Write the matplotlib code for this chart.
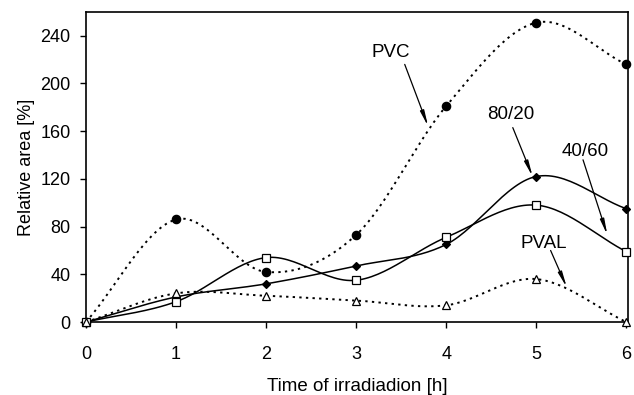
import numpy as np
import matplotlib
matplotlib.use("Agg")
import matplotlib.pyplot as plt

plt.rcParams['font.family'] = ['Liberation Sans', 'DejaVu Sans']

hours = [0, 1, 2, 3, 4, 5, 6]
pvc = [0, 86, 42, 73, 181, 251, 216]
r80_20 = [0, 21, 32, 47, 65, 122, 95]
r40_60 = [0, 17, 54, 35, 71, 98, 59]
pval = [0, 24, 22, 18, 14, 36, 0]


def smooth(x, y, n=30):
    # Catmull-Rom style smoothing, like the spreadsheet "smoothed line"
    x = np.asarray(x, float)
    y = np.asarray(y, float)
    px = np.concatenate([[2 * x[0] - x[1]], x, [2 * x[-1] - x[-2]]])
    py = np.concatenate([[2 * y[0] - y[1]], y, [2 * y[-1] - y[-2]]])
    xs, ys = [], []
    t = np.linspace(0, 1, n)
    for i in range(1, len(px) - 2):
        for p, out in ((px, xs), (py, ys)):
            p0, p1, p2, p3 = p[i - 1], p[i], p[i + 1], p[i + 2]
            out.extend(0.5 * (2 * p1 + (-p0 + p2) * t
                              + (2 * p0 - 5 * p1 + 4 * p2 - p3) * t ** 2
                              + (-p0 + 3 * p1 - 3 * p2 + p3) * t ** 3))
    return np.array(xs), np.array(ys)


fig = plt.figure(figsize=(6.34, 3.95), dpi=100)
ax = fig.add_axes([0.1356, 0.1848, 0.855, 0.785])

dots = (0, (1.2, 2.2))
series = [
    (pvc, dots, 'o', 'black', 6),
    (r80_20, '-', 'D', 'black', 4),
    (r40_60, '-', 's', 'white', 5.5),
    (pval, dots, '^', 'white', 5.5),
]
for vals, ls, mk, fc, ms in series:
    sx, sy = smooth(hours, vals)
    ax.plot(sx, sy, color='black', linestyle=ls, lw=1.4 if ls != '-' else 1.1,
            clip_on=False)
    ax.plot(hours, vals, linestyle='none', marker=mk, markersize=ms,
            markerfacecolor=fc, markeredgecolor='black', markeredgewidth=0.9,
            clip_on=False, zorder=3)

# labels: (text, text pos, arrow start, arrow tip)
labels = [
    ('PVC', (3.39, 226), (3.54, 216), (3.80, 164)),
    ('80/20', (4.72, 174), (4.74, 163), (4.96, 122)),
    ('40/60', (5.54, 143), (5.52, 136), (5.79, 73)),
    ('PVAL', (5.08, 66), (5.16, 60), (5.34, 29)),
]
arrow = dict(arrowstyle='-|>,head_length=0.9,head_width=0.12', color='black',
             lw=0.9, shrinkA=0, shrinkB=0)
for txt, tpos, start, tip in labels:
    ax.text(*tpos, txt, fontsize=13.5, ha='center', va='center')
    ax.annotate('', xy=tip, xytext=start, arrowprops=arrow)

ax.set_xlim(0, 6.02)
ax.set_ylim(0, 260)
ax.set_xticks(hours)
ax.set_yticks([0, 40, 80, 120, 160, 200, 240])
ax.tick_params(direction='out', length=4, width=1, labelsize=13, pad=7)
ax.tick_params(axis='x', pad=13)
for s in ax.spines.values():
    s.set_linewidth(1.2)

ax.set_xlabel('Time of irradiadion [h]', fontsize=13.5, labelpad=11)
ax.set_ylabel('Relative area [%]', fontsize=13, labelpad=4)

fig.savefig('out.png', dpi=100)
